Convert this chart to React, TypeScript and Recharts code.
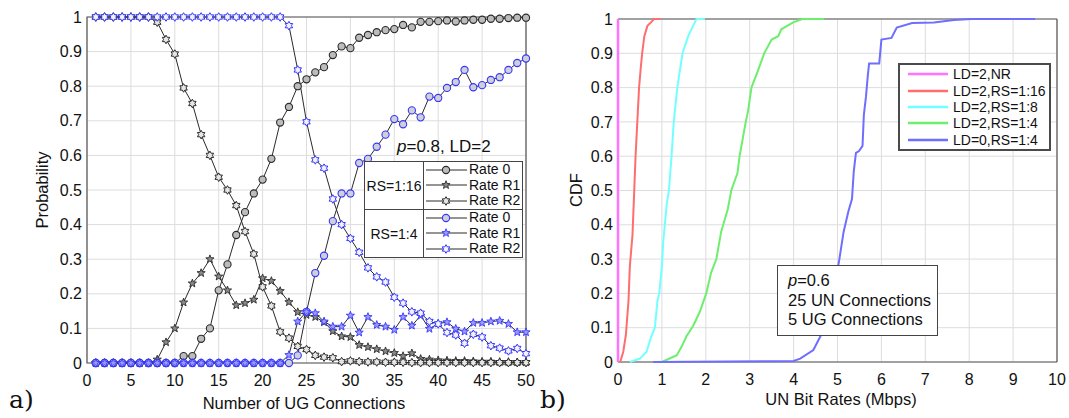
import { CartesianGrid, Line, LineChart, ReferenceArea, ReferenceLine, XAxis, YAxis } from "recharts";

const FONT = '"Liberation Sans", Arial, Helvetica, sans-serif';

// ---- panel a) : probability vs number of UG connections ----
const ugConnections = [
  1, 2, 3, 4, 5, 6, 7, 8, 9, 10, 11, 12, 13, 14, 15, 16, 17, 18, 19, 20, 21, 22, 23, 24, 25,
  26, 27, 28, 29, 30, 31, 32, 33, 34, 35, 36, 37, 38, 39, 40, 41, 42, 43, 44, 45, 46, 47, 48, 49, 50,
];
const ugTicks = [0, 5, 10, 15, 20, 25, 30, 35, 40, 45, 50];
const probTicks = [0, 0.1, 0.2, 0.3, 0.4, 0.5, 0.6, 0.7, 0.8, 0.9, 1];

// RS=1:16
const rs16Rate0 = [
  0, 0, 0, 0, 0, 0, 0, 0, 0, 0, 0.02, 0.02, 0.07, 0.1, 0.21, 0.285, 0.37, 0.436, 0.49, 0.53, 0.59,
  0.695, 0.74, 0.8, 0.82, 0.84, 0.855, 0.89, 0.915, 0.91, 0.94, 0.948, 0.956, 0.962, 0.965, 0.977,
  0.97, 0.986, 0.986, 0.988, 0.99, 0.987, 0.99, 0.992, 0.992, 0.995, 0.995, 0.997, 0.998, 0.998,
];
const rs16RateR1 = [
  0, 0, 0, 0, 0, 0, 0, 0.01, 0.06, 0.1, 0.175, 0.23, 0.26, 0.3, 0.25, 0.21, 0.167, 0.173, 0.183,
  0.245, 0.237, 0.208, 0.176, 0.147, 0.139, 0.133, 0.118, 0.092, 0.077, 0.075, 0.052, 0.046, 0.04,
  0.034, 0.029, 0.02, 0.028, 0.012, 0.01, 0.008, 0.007, 0.006, 0.006, 0.005, 0.004, 0.004, 0.003,
  0.003, 0.002, 0.002,
];
const rs16RateR2 = [
  1, 1, 1, 1, 1, 1, 1, 0.985, 0.935, 0.893, 0.795, 0.75, 0.66, 0.6, 0.537, 0.5, 0.455, 0.38, 0.315,
  0.22, 0.165, 0.09, 0.072, 0.048, 0.039, 0.022, 0.017, 0.015, 0.004, 0.006, 0.004, 0.003, 0.003,
  0.002, 0.002, 0.002, 0.001, 0.001, 0.001, 0.001, 0.001, 0.001, 0.001, 0.001, 0.001, 0.001, 0.001,
  0.001, 0.001, 0.001,
];
// RS=1:4
const rs4Rate0 = [
  0, 0, 0, 0, 0, 0, 0, 0, 0, 0, 0, 0, 0, 0, 0, 0, 0, 0, 0, 0, 0, 0, 0, 0.022, 0.148, 0.26, 0.31,
  0.41, 0.49, 0.49, 0.578, 0.59, 0.625, 0.66, 0.705, 0.69, 0.73, 0.71, 0.77, 0.766, 0.795, 0.812,
  0.847, 0.797, 0.803, 0.818, 0.826, 0.847, 0.867, 0.88,
];
const rs4RateR1 = [
  0, 0, 0, 0, 0, 0, 0, 0, 0, 0, 0, 0, 0, 0, 0, 0, 0, 0, 0, 0, 0, 0, 0.023, 0.12, 0.148, 0.144,
  0.12, 0.105, 0.105, 0.137, 0.088, 0.133, 0.11, 0.105, 0.096, 0.133, 0.108, 0.137, 0.099, 0.114,
  0.118, 0.099, 0.091, 0.116, 0.116, 0.12, 0.122, 0.113, 0.089, 0.089,
];
const rs4RateR2 = [
  1, 1, 1, 1, 1, 1, 1, 1, 1, 1, 1, 1, 1, 1, 1, 1, 1, 1, 1, 1, 1, 1, 0.975, 0.847, 0.697, 0.587,
  0.563, 0.474, 0.4, 0.36, 0.32, 0.275, 0.249, 0.234, 0.19, 0.173, 0.148, 0.144, 0.12, 0.113,
  0.088, 0.081, 0.057, 0.083, 0.075, 0.05, 0.043, 0.035, 0.042, 0.027,
];

// ---- panel b) : CDF of UN bit rates ----
const rateTicks = [0, 1, 2, 3, 4, 5, 6, 7, 8, 9, 10];

const nrRate = [0, 0];
const nrCdf = [0, 1];
const rs16Rate = [0.05, 0.12, 0.18, 0.24, 0.27, 0.33, 0.37, 0.4, 0.44, 0.48, 0.52, 0.55, 0.6, 0.67, 0.75, 0.82, 0.97];
const rs16Cdf = [0, 0.03, 0.08, 0.18, 0.28, 0.37, 0.5, 0.6, 0.7, 0.8, 0.86, 0.9, 0.95, 0.98, 0.99, 1, 1];
const rs8Rate = [0.27, 0.5, 0.65, 0.76, 0.84, 0.9, 0.94, 1.0, 1.03, 1.11, 1.16, 1.22, 1.27, 1.35, 1.47, 1.6, 1.71, 1.79, 1.98];
const rs8Cdf = [0, 0.01, 0.03, 0.075, 0.1, 0.18, 0.2, 0.28, 0.35, 0.46, 0.5, 0.6, 0.7, 0.8, 0.9, 0.95, 0.98, 1, 1];
const rs4Rate = [
  1.0, 1.34, 1.45, 1.56, 1.71, 1.86, 2.01, 2.12, 2.24, 2.35, 2.5, 2.58, 2.72, 2.77, 2.91, 2.96, 3.04,
  3.19, 3.33, 3.5, 3.65, 3.72, 3.99, 4.2, 4.7,
];
const rs4Cdf = [
  0, 0.02, 0.045, 0.075, 0.105, 0.145, 0.2, 0.26, 0.3, 0.38, 0.445, 0.5, 0.55, 0.6, 0.7, 0.73, 0.8,
  0.85, 0.9, 0.94, 0.95, 0.97, 0.99, 1, 1,
];
const ld0Rate = [
  0.8, 4.0, 4.15, 4.45, 4.65, 4.8, 4.92, 5.03, 5.14, 5.25, 5.33, 5.37, 5.42, 5.49, 5.57, 5.6, 5.65,
  5.69, 5.72, 5.95, 6.0, 6.23, 6.35, 6.7, 7.2, 7.65, 8.05, 9.5,
];
const ld0Cdf = [
  0, 0.003, 0.01, 0.035, 0.085, 0.155, 0.22, 0.29, 0.38, 0.44, 0.475, 0.555, 0.61, 0.615, 0.63,
  0.72, 0.775, 0.835, 0.87, 0.87, 0.94, 0.945, 0.975, 0.988, 0.99, 0.997, 1, 1,
];

type Shape = "circle" | "star" | "hexagram";

const probSeries = [
  { key: "rs16r0", name: "Rate 0", values: rs16Rate0, shape: "circle" as Shape, stroke: "#2a2a2a", fill: "#bcbcbc" },
  { key: "rs16r1", name: "Rate R1", values: rs16RateR1, shape: "star" as Shape, stroke: "#2a2a2a", fill: "#8a8a8a" },
  { key: "rs16r2", name: "Rate R2", values: rs16RateR2, shape: "hexagram" as Shape, stroke: "#2a2a2a", fill: "#e6e6e6" },
  { key: "rs4r0", name: "Rate 0", values: rs4Rate0, shape: "circle" as Shape, stroke: "#3535ff", fill: "#cfcfd8" },
  { key: "rs4r1", name: "Rate R1", values: rs4RateR1, shape: "star" as Shape, stroke: "#3535ff", fill: "#9a9aff" },
  { key: "rs4r2", name: "Rate R2", values: rs4RateR2, shape: "hexagram" as Shape, stroke: "#3535ff", fill: "#f2f2ff" },
];

const cdfSeries = [
  { key: "nr", name: "LD=2,NR", xs: nrRate, ys: nrCdf, color: "#ff73ff", width: 2.5 },
  { key: "rs16", name: "LD=2,RS=1:16", xs: rs16Rate, ys: rs16Cdf, color: "#ff6e6e", width: 2 },
  { key: "rs8", name: "LD=2,RS=1:8", xs: rs8Rate, ys: rs8Cdf, color: "#73ffff", width: 2 },
  { key: "rs4", name: "LD=2,RS=1:4", xs: rs4Rate, ys: rs4Cdf, color: "#6eee6e", width: 2 },
  { key: "ld0", name: "LD=0,RS=1:4", xs: ld0Rate, ys: ld0Cdf, color: "#6e6eff", width: 2 },
];

const probRows = ugConnections.map((x, i) => {
  const row: Record<string, number> = { x };
  for (const s of probSeries) row[s.key] = s.values[i];
  return row;
});

function starPoints(cx: number, cy: number, outer: number, inner: number, n: number) {
  const pts: string[] = [];
  for (let i = 0; i < n * 2; i++) {
    const r = i % 2 === 0 ? outer : inner;
    const a = -Math.PI / 2 + (i * Math.PI) / n;
    pts.push(`${(cx + r * Math.cos(a)).toFixed(2)},${(cy + r * Math.sin(a)).toFixed(2)}`);
  }
  return pts.join(" ");
}

function Marker({ shape, cx, cy, stroke, fill }: { shape: Shape; cx: number; cy: number; stroke: string; fill: string }) {
  if (shape === "circle") {
    return <circle cx={cx} cy={cy} r={3.6} fill={fill} stroke={stroke} strokeWidth={1.1} />;
  }
  if (shape === "star") {
    return <polygon points={starPoints(cx, cy, 4.3, 1.8, 5)} fill={fill} stroke={stroke} strokeWidth={0.9} />;
  }
  return <polygon points={starPoints(cx, cy, 4.3, 2.5, 6)} fill={fill} stroke={stroke} strokeWidth={1} />;
}

function makeDot(shape: Shape, stroke: string, fill: string) {
  return (props: { cx?: number; cy?: number; index?: number }) => {
    const { cx, cy, index } = props;
    if (cx == null || cy == null) return <g key={`d-${index}`} />;
    return (
      <g key={`d-${index}`}>
        <Marker shape={shape} cx={cx} cy={cy} stroke={stroke} fill={fill} />
      </g>
    );
  };
}

const tickStyle = { fontSize: 16, fill: "#111", fontFamily: FONT };
const formatProb = (v: number) => String(Math.round(v * 10) / 10);

function GroupLegend() {
  const groups = [
    { label: "RS=1:16", items: probSeries.slice(0, 3) },
    { label: "RS=1:4", items: probSeries.slice(3, 6) },
  ];
  return (
    <div
      style={{
        position: "absolute",
        left: 364,
        top: 161,
        width: 157,
        background: "#fff",
        border: "1.5px solid #444",
        fontFamily: FONT,
        fontSize: 14,
        color: "#111",
      }}
    >
      {groups.map((g, gi) => (
        <div key={g.label} style={{ display: "flex", height: 47, borderTop: gi ? "1px solid #444" : "none" }}>
          <div
            style={{
              width: 58,
              borderRight: "1px solid #444",
              display: "flex",
              alignItems: "center",
              justifyContent: "center",
            }}
          >
            {g.label}
          </div>
          <div>
            {g.items.map((s) => (
              <div key={s.key} style={{ display: "flex", alignItems: "center", height: 15.6, lineHeight: "15.6px" }}>
                <svg width={43} height={14} style={{ marginLeft: 1 }}>
                  <line x1={1} y1={7} x2={42} y2={7} stroke="#2a2a2a" strokeWidth={1} />
                  <Marker shape={s.shape} cx={21} cy={7} stroke={s.stroke} fill={s.fill} />
                </svg>
                <span style={{ marginLeft: 1 }}>{s.name}</span>
              </div>
            ))}
          </div>
        </div>
      ))}
    </div>
  );
}

function CdfLegend() {
  return (
    <div
      style={{
        position: "absolute",
        left: 898,
        top: 63,
        width: 153,
        padding: "1px 0 1px 8px",
        boxSizing: "border-box",
        background: "#fff",
        border: "2px solid #4a4a4a",
        fontFamily: FONT,
        fontSize: 14,
        color: "#111",
      }}
    >
      {cdfSeries.map((s) => (
        <div key={s.key} style={{ display: "flex", alignItems: "center", height: 16.4 }}>
          <svg width={40} height={10}>
            <line x1={0} y1={5} x2={40} y2={5} stroke={s.color} strokeWidth={2.5} />
          </svg>
          <span style={{ marginLeft: 5 }}>{s.name}</span>
        </div>
      ))}
    </div>
  );
}

const textBase = { position: "absolute" as const, fontFamily: FONT, color: "#111", whiteSpace: "nowrap" as const };

export default function App() {
  return (
    <div style={{ position: "absolute", left: 0, top: 0, width: 1069, height: 418, background: "#fff", overflow: "hidden" }}>
      <div style={{ position: "absolute", left: 0, top: 0 }}>
        <LineChart width={540} height={418} data={probRows} margin={{ top: 17, right: 14, bottom: 25, left: 27 }}>
          <CartesianGrid stroke="#dddddd" strokeWidth={1} />
          <XAxis
            dataKey="x"
            type="number"
            domain={[0, 50]}
            ticks={ugTicks}
            interval={0}
            tickLine={false}
            tickSize={0}
            tickMargin={12}
            height={30}
            axisLine={false}
            tick={tickStyle}
          />
          <YAxis
            type="number"
            domain={[0, 1]}
            ticks={probTicks}
            interval={0}
            tickLine={false}
            tickSize={0}
            tickMargin={5}
            width={60}
            axisLine={false}
            tick={tickStyle}
            tickFormatter={formatProb}
          />
          <ReferenceArea x1={0} x2={50} y1={0} y2={1} fill="none" stroke="#555" strokeWidth={1.2} />
          {probSeries.map((s) => (
            <Line
              key={s.key}
              dataKey={s.key}
              name={s.name}
              type="linear"
              stroke="#2a2a2a"
              strokeWidth={1}
              dot={makeDot(s.shape, s.stroke, s.fill)}
              activeDot={false}
              isAnimationActive={false}
            />
          ))}
        </LineChart>
      </div>

      <div style={{ position: "absolute", left: 540, top: 0 }}>
        <LineChart width={529} height={418} margin={{ top: 19, right: 12, bottom: 26, left: 18 }}>
          <CartesianGrid stroke="#dddddd" strokeWidth={1} />
          <XAxis
            dataKey="x"
            type="number"
            domain={[0, 10]}
            ticks={rateTicks}
            interval={0}
            tickLine={false}
            tickSize={0}
            tickMargin={12}
            height={30}
            axisLine={false}
            tick={tickStyle}
            allowDuplicatedCategory={false}
          />
          <YAxis
            type="number"
            domain={[0, 1]}
            ticks={probTicks}
            interval={0}
            tickLine={false}
            tickSize={0}
            tickMargin={5}
            width={60}
            axisLine={false}
            tick={tickStyle}
            tickFormatter={formatProb}
          />
          <ReferenceLine y={1} stroke="#555" strokeWidth={1.2} />
          <ReferenceLine y={0} stroke="#555" strokeWidth={1.2} />
          <ReferenceLine x={10} stroke="#555" strokeWidth={1.2} />
          {cdfSeries.map((s) => (
            <Line
              key={s.key}
              data={s.xs.map((x, i) => ({ x, y: s.ys[i] }))}
              dataKey="y"
              name={s.name}
              type="linear"
              stroke={s.color}
              strokeWidth={s.width}
              dot={false}
              activeDot={false}
              isAnimationActive={false}
            />
          ))}
        </LineChart>
      </div>

      <GroupLegend />
      <CdfLegend />

      <div style={{ ...textBase, left: 397, top: 137, fontSize: 17, lineHeight: "20px" }}>
        <i>p</i>=0.8, LD=2
      </div>

      <div
        style={{
          ...textBase,
          left: 777,
          top: 265,
          width: 161,
          height: 71,
          boxSizing: "border-box",
          padding: "5px 0 0 10px",
          border: "1.5px solid #444",
          background: "#fff",
          fontSize: 16.5,
          lineHeight: "19.5px",
        }}
      >
        <div>
          <i>p</i>=0.6
        </div>
        <div>25 UN Connections</div>
        <div>5 UG Connections</div>
      </div>

      <div style={{ ...textBase, left: 42, top: 190, fontSize: 16.5, transform: "translate(-50%, -50%) rotate(-90deg)" }}>
        Probability
      </div>
      <div style={{ ...textBase, left: 576, top: 190, fontSize: 16.5, transform: "translate(-50%, -50%) rotate(-90deg)" }}>
        CDF
      </div>
      <div style={{ ...textBase, left: 304, top: 403, fontSize: 16.5, transform: "translate(-50%, -50%)" }}>
        Number of UG Connections
      </div>
      <div style={{ ...textBase, left: 841, top: 399, fontSize: 16.5, transform: "translate(-50%, -50%)" }}>
        UN Bit Rates (Mbps)
      </div>
      <div style={{ ...textBase, left: 9, top: 386, fontSize: 25, fontFamily: '"DejaVu Serif", "Liberation Serif", serif', lineHeight: "28px" }}>
        a)
      </div>
      <div style={{ ...textBase, left: 540, top: 386, fontSize: 25, fontFamily: '"DejaVu Serif", "Liberation Serif", serif', lineHeight: "28px" }}>
        b)
      </div>
    </div>
  );
}
